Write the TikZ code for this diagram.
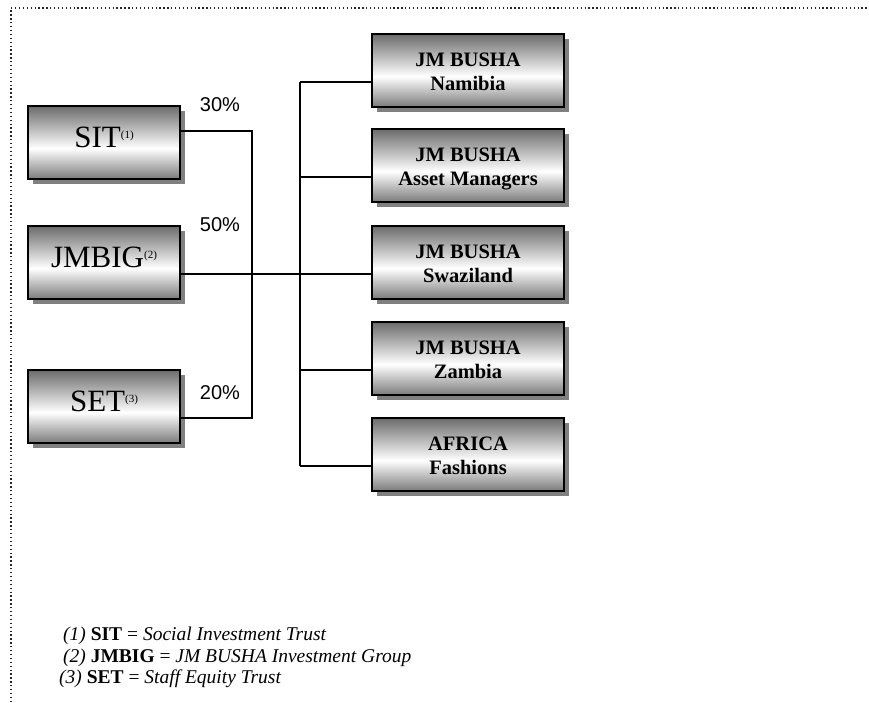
\documentclass[tikz,border=0pt]{standalone}
\usepackage{fontspec}
\setmainfont{Liberation Serif}
\newfontfamily\arialfont{Liberation Sans}
\usetikzlibrary{shadows}
\pgfdeclareverticalshading{boxshade}{100bp}{color(0bp)=(black!52); color(25bp)=(black!52); color(46bp)=(white); color(75bp)=(black!58); color(100bp)=(black!58)}
\newcommand\smallmark[1]{\raisebox{8.5pt}{\fontsize{11}{11}\selectfont(#1)}}
\begin{document}
\begin{tikzpicture}[x=1pt,y=-1pt,
  box/.style={draw=black, line width=1.8pt, shade, shading=boxshade, inner sep=0pt, minimum height=73pt,
    drop shadow={shadow xshift=5pt, shadow yshift=-5pt, fill=black!50, opacity=1}},
  lbox/.style={box, minimum width=152pt, font=\fontsize{31}{31}\selectfont},
  rbox/.style={box, minimum width=192pt, align=center, font=\fontsize{20.5}{24}\selectfont\bfseries},
  conn/.style={line width=1.4pt},
  pct/.style={font=\arialfont\fontsize{20}{20}\selectfont, inner sep=0pt},
  note/.style={anchor=base west, inner sep=0pt, font=\fontsize{19.5}{22}\selectfont},
  frame/.style={line width=1.3pt, dash pattern=on 1.3pt off 2.6pt, black!85}]
\useasboundingbox (0,0) rectangle (869,702);
\draw[frame] (11,702) -- (11,8) -- (869,8);

% left boxes
\node[lbox] (sit) at (104,142.5) {\rule{0pt}{41pt}SIT\smallmark{1}\rule[-32pt]{0pt}{32pt}};
\node[lbox] (jmbig) at (104,262.5) {\rule{0pt}{41pt}JMBIG\smallmark{2}\rule[-32pt]{0pt}{32pt}};
\node[lbox] (set) at (104,406.5) {\rule{0pt}{41pt}SET\smallmark{3}\rule[-32pt]{0pt}{32pt}};

% right boxes
\node[rbox] (nam) at (468,70.5) {\rule{0pt}{30pt}JM BUSHA\\Namibia\rule[-15pt]{0pt}{15pt}};
\node[rbox] (ast) at (468,165.5) {\rule{0pt}{30pt}JM BUSHA\\Asset Managers\rule[-15pt]{0pt}{15pt}};
\node[rbox] (swa) at (468,262.5) {\rule{0pt}{30pt}JM BUSHA\\Swaziland\rule[-15pt]{0pt}{15pt}};
\node[rbox] (zam) at (468,358.5) {\rule{0pt}{30pt}JM BUSHA\\Zambia\rule[-15pt]{0pt}{15pt}};
\node[rbox] (fas) at (468,454.5) {\rule{0pt}{30pt}AFRICA\\Fashions\rule[-15pt]{0pt}{15pt}};

% percentages
\node[pct] (p30) at (220,105) {30\%};
\node[pct] (p50) at (220,225) {50\%};
\node[pct] (p20) at (220,393) {20\%};

% junctions
\coordinate (lt) at (252,131);
\coordinate (lb) at (252,418);
\coordinate (rt) at (300,82);
\coordinate (rb) at (300,466);

\draw[conn] ([yshift=11.5pt]sit.east) -- (lt) -- (lb) -- ([yshift=-11.5pt]set.east);
\draw[conn] ([yshift=-11.5pt]jmbig.east) -- ([yshift=-11.5pt]swa.west);
\draw[conn] (rt) -- (rb);
\draw[conn] (rt) -- ([yshift=-11.5pt]nam.west);
\draw[conn] ([yshift=-11.5pt]ast.west) -- ++(-72,0);
\draw[conn] ([yshift=-11.5pt]zam.west) -- ++(-72,0);
\draw[conn] (rb) -- ([yshift=-11.5pt]fas.west);

% footnotes
\node[note] (n1) at (63,640) {\textit{(1)} \textbf{SIT} = \textit{Social Investment Trust}};
\node[note] (n2) at (63,662) {\textit{(2)} \textbf{JMBIG} = \textit{JM BUSHA Investment Group}};
\node[note] (n3) at (59,683) {\textit{(3)} \textbf{SET} = \textit{Staff Equity Trust}};
\end{tikzpicture}
\end{document}
